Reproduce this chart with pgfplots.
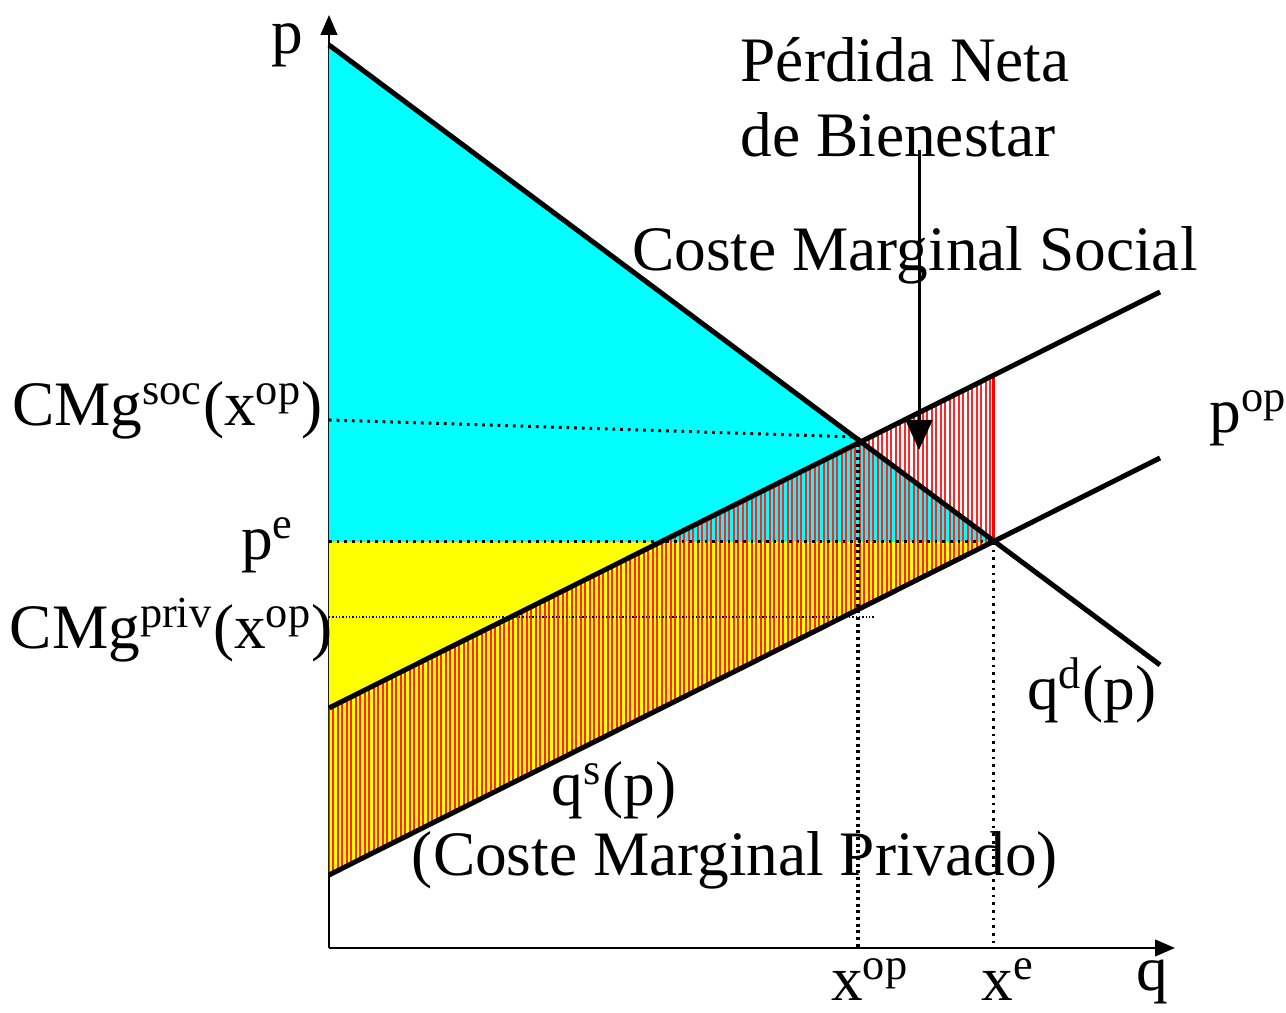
\documentclass[border=0pt]{standalone}
\usepackage{fontspec}
\setmainfont{Liberation Serif}
\usepackage{pgfplots}
\pgfplotsset{compat=1.18}
\usetikzlibrary{arrows.meta,patterns.meta}
\definecolor{cy}{RGB}{0,255,255}
\definecolor{ye}{RGB}{255,255,0}
\begin{document}
\begin{tikzpicture}
\path[use as bounding box] (-98.7pt,-19.5pt) rectangle (287.1pt,284.4pt);
\begin{axis}[
  at={(0,0)}, anchor=origin,
  x=30pt, y=30pt,
  xmin=0, xmax=8.46, ymin=0, ymax=9.33,
  axis lines=left,
  axis line style={line width=0.6pt, -{Triangle[length=6pt,width=5pt]}},
  ticks=none,
  clip=false,
  font=\fontsize{19}{22}\selectfont,
]
% areas
\addplot[fill=cy, draw=none] coordinates {(0,9.03) (0,4.06) (6.64,4.06)} -- cycle;
\addplot[fill=ye, draw=none] coordinates {(0,4.06) (6.64,4.06) (0,0.73)} -- cycle;
\addplot[draw=none, pattern={Lines[angle=90,distance=1.35pt,line width=0.6pt]}, pattern color=red!85] coordinates {(0,0.73) (6.64,4.06) (6.64,5.72) (0,2.40)} -- cycle;
% dotted guides
\addplot[black, line width=0.9pt, dash pattern=on 0.8pt off 1.5pt] coordinates {(0,4.06) (6.64,4.06)};
\addplot[black, line width=0.9pt, dash pattern=on 0.8pt off 1.5pt] coordinates {(0,5.28) (5.29,5.11)};
\addplot[black, line width=0.35pt, dash pattern=on 0.4pt off 0.6pt] coordinates {(0,3.31) (5.46,3.31)};
\addplot[black, line width=1.1pt, dash pattern=on 0.9pt off 1.1pt] coordinates {(5.29,5.11) (5.29,0)};
\addplot[black, line width=0.9pt, dash pattern=on 0.8pt off 1.5pt] coordinates {(6.64,4.06) (6.64,0)};
% red edge
\addplot[red, line width=0.9pt] coordinates {(6.64,4.06) (6.64,5.72)};
% curves
\addplot[black, line width=1.5pt] coordinates {(0,9.03) (8.31,2.83)};
\addplot[black, line width=1.5pt] coordinates {(0,2.40) (8.31,6.56)};
\addplot[black, line width=1.5pt] coordinates {(0,0.73) (8.31,4.90)};
% arrow
\draw[black, line width=0.9pt, -{Triangle[length=9pt,width=8pt]}] (axis cs:5.90,7.98) -- (axis cs:5.90,4.98);
% labels
\node at (axis cs:-0.42,9.03) {p};
\node[anchor=west] at (axis cs:4.00,8.88) {Pérdida Neta};
\node[anchor=west] at (axis cs:4.00,8.13) {de Bienestar};
\node at (axis cs:5.86,6.93) {Coste Marginal Social};
\node[anchor=east, inner sep=1pt] at (axis cs:-0.02,5.38) {CMg\textsuperscript{soc}(x\textsuperscript{op})};
\node[anchor=west, inner sep=0pt] at (axis cs:8.80,5.30) {p\textsuperscript{op}};
\node[anchor=east] at (axis cs:-0.23,4.03) {p\textsuperscript{e}};
\node[anchor=east, inner sep=1pt] at (axis cs:0.08,3.18) {CMg\textsuperscript{priv}(x\textsuperscript{op})};
\node at (axis cs:7.63,2.58) {q\textsuperscript{d}(p)};
\node at (axis cs:2.85,1.58) {q\textsuperscript{s}(p)};
\node at (axis cs:4.06,0.88) {(Coste Marginal Privado)};
\node[inner sep=0pt] at (axis cs:5.41,-0.32) {x\textsuperscript{op}};
\node[inner sep=0pt] at (axis cs:6.79,-0.32) {x\textsuperscript{e}};
\node[inner sep=0pt] at (axis cs:8.23,-0.34) {q};
\end{axis}
\end{tikzpicture}
\end{document}
